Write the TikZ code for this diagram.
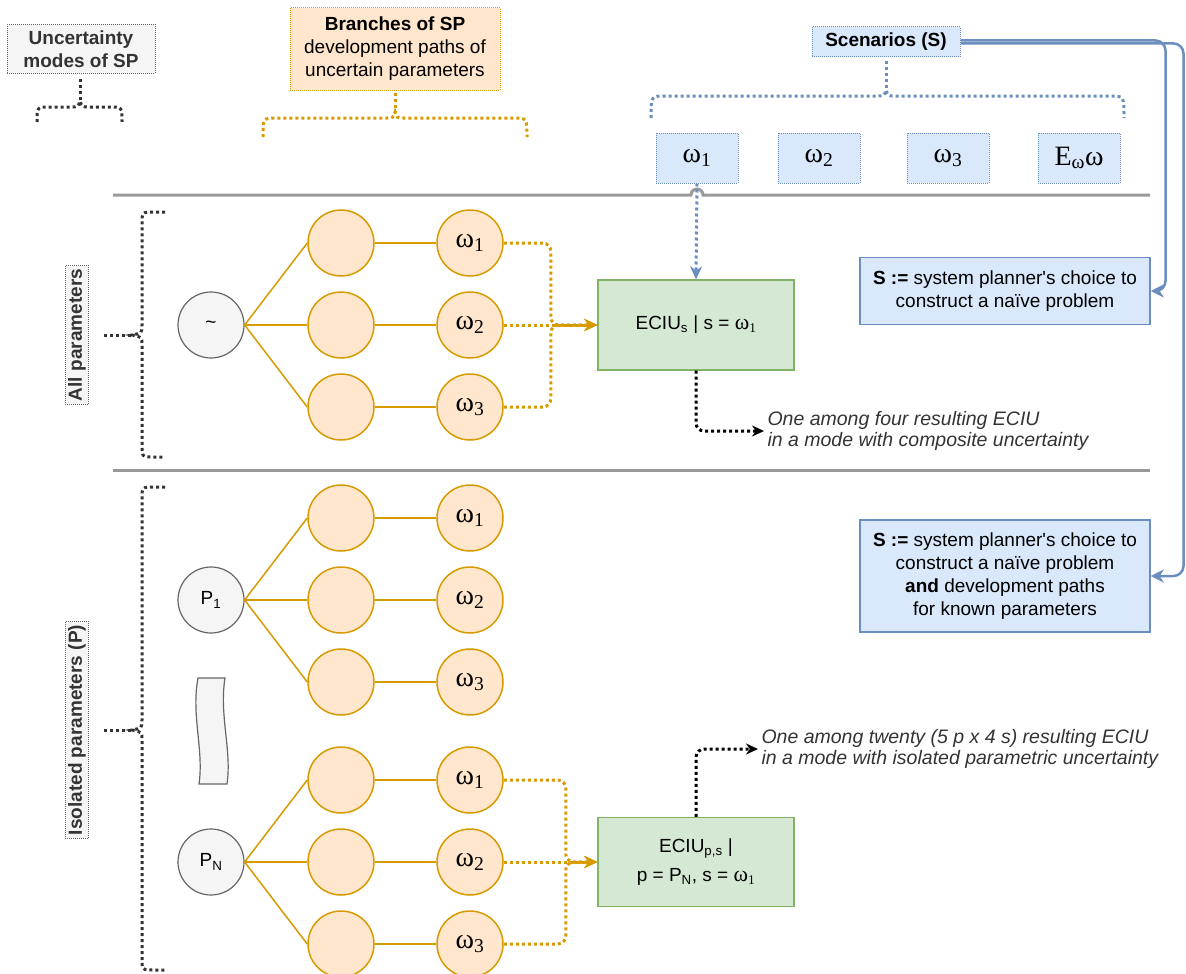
\documentclass[tikz,border=0pt]{standalone}
\usepackage{fontspec}
\setmainfont{Liberation Sans}
\newfontfamily\omfont{Liberation Serif}
\usetikzlibrary{shapes.geometric, arrows.meta, positioning}
\definecolor{orfill}{HTML}{FFE6CC}
\definecolor{ordraw}{HTML}{D79B00}
\definecolor{blfill}{HTML}{DAE8FC}
\definecolor{bldraw}{HTML}{6C8EBF}
\definecolor{grfill}{HTML}{D5E8D4}
\definecolor{grdraw}{HTML}{82B366}
\definecolor{gyfill}{HTML}{F5F5F5}
\definecolor{gydraw}{HTML}{666666}
\definecolor{gytext}{HTML}{333333}
\definecolor{sepline}{HTML}{999999}
\newcommand{\basefont}{\fontsize{19pt}{23pt}\selectfont}
\newcommand{\om}[1]{{\omfont\fontsize{28pt}{30pt}\selectfont ω\textsubscript{#1}}}
\newcommand{\omg}{{\omfont\fontsize{22pt}{23pt}\selectfont ω}}
\tikzstyle{root} = [circle, minimum size=66pt, inner sep=0pt, draw=gydraw, fill=gyfill, line width=1.2pt, font=\basefont]
\tikzstyle{branch} = [circle, minimum size=66pt, inner sep=0pt, draw=ordraw, fill=orfill, line width=1.5pt]
\tikzstyle{scen} = [rectangle, draw=bldraw, fill=blfill, densely dotted, line width=1pt, minimum width=82pt, minimum height=50pt]
\tikzstyle{result} = [rectangle, draw=grdraw, fill=grfill, line width=1.3pt, minimum width=196pt, minimum height=90pt, align=center, font=\basefont]
\tikzstyle{choice} = [rectangle, draw=bldraw, fill=blfill, line width=1.5pt, minimum width=290pt, align=center, font=\basefont]
\tikzstyle{head} = [rectangle, densely dotted, line width=1pt, align=center, inner sep=3pt]
\tikzstyle{link} = [draw=ordraw, line width=1.5pt]
\tikzstyle{merge} = [draw=ordraw, line width=3pt, dash pattern=on 3pt off 3pt, rounded corners=8pt, -{Stealth[length=13pt,width=12pt]}]
\tikzstyle{brace} = [line width=3pt, dash pattern=on 3pt off 3pt]
\tikzstyle{note} = [font=\fontsize{19.5pt}{21pt}\selectfont\itshape, align=left, anchor=west, text=gytext]
\tikzstyle{noteline} = [draw=black, line width=3pt, dash pattern=on 3pt off 3pt, rounded corners=8pt, -{Stealth[length=12pt,width=11pt]}]
\tikzstyle{feed} = [draw=bldraw, line width=2.5pt, rounded corners=10pt, -{Stealth[length=13pt,width=13pt,inset=4pt]}]
\tikzstyle{bluedot} = [draw=bldraw, line width=3pt, dash pattern=on 3pt off 3pt, -{Stealth[length=13pt,width=12pt]}]
\tikzstyle{sep} = [draw=sepline, line width=3pt]

\begin{document}
\begin{tikzpicture}[x=1pt, y=-1pt, node distance=82pt]
  \useasboundingbox (0,0) rectangle (1186,974);

  % headings
  \node (modes) [head, draw=gydraw, fill=gyfill, text=gytext, minimum width=148pt, minimum height=49pt, font=\basefont\bfseries] at (81,49) {Uncertainty\\modes of SP};
  \node (branches) [head, draw=ordraw, fill=orfill, minimum width=210pt, minimum height=82pt, font=\basefont] at (395,49) {\textbf{Branches of SP}\\development paths of\\uncertain parameters};
  \node (scen) [head, draw=bldraw, fill=blfill, minimum width=148pt, minimum height=30pt, font=\basefont\bfseries] at (886,42) {Scenarios (S)};

  \node (s1) [scen] at (697,158) {\om{1}};
  \node (s2) [scen] at (819,158) {\om{2}};
  \node (s3) [scen] at (948,158) {\om{3}};
  \node (s4) [scen] at (1079,158) {{\omfont\fontsize{28pt}{30pt}\selectfont E\textsubscript{ω}ω}};

  % braces under headings
  \draw [brace, gytext] (80,79) -- (80,101);
  \draw [brace, gytext] (37,122) .. controls (37,107) .. (49,107) -- (72,107) .. controls (78,107) .. (80,101) .. controls (82,107) .. (88,107) -- (110,107) .. controls (122,107) .. (122,122);
  \draw [brace, ordraw] (395,93) -- (395,112);
  \draw [brace, ordraw] (263,137) .. controls (263,118) .. (277,118) -- (387,118) .. controls (393,118) .. (395,112) .. controls (397,118) .. (403,118) -- (513,118) .. controls (527,118) .. (527,137);
  \draw [brace, bldraw] (886,61) -- (886,90);
  \draw [brace, bldraw] (651,118) .. controls (651,96) .. (665,96) -- (878,96) .. controls (884,96) .. (886,90) .. controls (888,96) .. (894,96) -- (1110,96) .. controls (1124,96) .. (1124,118);

  % separators
  \coordinate (sepA) at (113,195);
  \coordinate (sepB) at (1150,195);
  \coordinate (sepC) at (113,470);
  \coordinate (sepD) at (1150,470);
  \draw [sep] (sepA) -- (691,195) arc[start angle=180, end angle=0, radius=6pt] -- (sepB);
  \draw [sep] (sepC) -- (sepD);

  % all parameters
  \node (allp) [head, rotate=90, draw=gydraw, fill=gyfill, text=gytext, font=\basefont\bfseries] at (77,335) {All parameters};
  \draw [brace, gytext] (104,335) -- (132,335);
  \draw [brace, gytext] (165,212) -- (154,212) .. controls (142,212) .. (142,224) -- (142,325) .. controls (142,333) .. (132,335) .. controls (142,337) .. (142,345) -- (142,445) .. controls (142,457) .. (154,457) -- (165,457);

  \node (r1) [root] at (211,325) {\textasciitilde};
  \node (a2) [branch, right of=r1, xshift=48pt] {};
  \node (a1) [branch, above of=a2] {};
  \node (a3) [branch, below of=a2] {};
  \node (w1) [branch, right of=a1, xshift=47pt] {\om{1}};
  \node (w2) [branch, right of=a2, xshift=47pt] {\om{2}};
  \node (w3) [branch, right of=a3, xshift=47pt] {\om{3}};
  \node (e1) [result, right of=w2, xshift=144pt] {ECIU\textsubscript{s} | s = \omg\textsubscript{\omfont 1}};

  \draw [link] (r1.east) -- (a1.west);
  \draw [link] (r1.east) -- (a2.west);
  \draw [link] (r1.east) -- (a3.west);
  \draw [link] (a1) -- (w1);
  \draw [link] (a2) -- (w2);
  \draw [link] (a3) -- (w3);
  \draw [merge] (w1.east) -- ++(47,0) |- (e1.west);
  \draw [merge] (w3.east) -- ++(47,0) |- (e1.west);
  \draw [merge] (w2.east) -- (e1.west);

  \node (n1) [note] at (764,431) {One among four resulting ECIU\\in a mode with composite uncertainty};
  \draw [noteline] (e1.south) |- (n1.west);
  \draw [bluedot] (s1.south) -- (e1.north);

  % isolated parameters
  \node (isop) [head, rotate=90, draw=gydraw, fill=gyfill, text=gytext, font=\basefont\bfseries] at (77,730) {Isolated parameters (P)};
  \draw [brace, gytext] (104,730) -- (132,730);
  \draw [brace, gytext] (165,487) -- (154,487) .. controls (142,487) .. (142,499) -- (142,720) .. controls (142,728) .. (132,730) .. controls (142,732) .. (142,740) -- (142,958) .. controls (142,970) .. (154,970) -- (165,970);

  \node (p1) [root] at (211,600) {P\textsubscript{1}};
  \node (b2) [branch, right of=p1, xshift=48pt] {};
  \node (b1) [branch, above of=b2] {};
  \node (b3) [branch, below of=b2] {};
  \node (v1) [branch, right of=b1, xshift=47pt] {\om{1}};
  \node (v2) [branch, right of=b2, xshift=47pt] {\om{2}};
  \node (v3) [branch, right of=b3, xshift=47pt] {\om{3}};

  \draw [fill=gyfill, draw=gydraw, line width=1.2pt] (198,678) -- (225,678) .. controls (219,715) and (232,750) .. (227,784) -- (199,784) .. controls (204,750) and (191,715) .. (198,678) -- cycle;

  \node (pn) [root] at (211,862) {P\textsubscript{N}};
  \node (c2) [branch, right of=pn, xshift=48pt] {};
  \node (c1) [branch, above of=c2] {};
  \node (c3) [branch, below of=c2] {};
  \node (u1) [branch, right of=c1, xshift=47pt] {\om{1}};
  \node (u2) [branch, right of=c2, xshift=47pt] {\om{2}};
  \node (u3) [branch, right of=c3, xshift=47pt] {\om{3}};
  \node (e2) [result, right of=u2, xshift=144pt, minimum height=89pt] {ECIU\textsubscript{p,s} |\\[6pt] p = P\textsubscript{N}, s = \omg\textsubscript{\omfont 1}};

  \draw [link] (p1.east) -- (b1.west);
  \draw [link] (p1.east) -- (b2.west);
  \draw [link] (p1.east) -- (b3.west);
  \draw [link] (b1) -- (v1);
  \draw [link] (b2) -- (v2);
  \draw [link] (b3) -- (v3);
  \draw [link] (pn.east) -- (c1.west);
  \draw [link] (pn.east) -- (c2.west);
  \draw [link] (pn.east) -- (c3.west);
  \draw [link] (c1) -- (u1);
  \draw [link] (c2) -- (u2);
  \draw [link] (c3) -- (u3);
  \draw [merge] (u1.east) -- ++(62,0) |- (e2.west);
  \draw [merge] (u3.east) -- ++(62,0) |- (e2.west);
  \draw [merge] (u2.east) -- (e2.west);

  \node (n2) [note] at (758,749) {One among twenty (5 p x 4 s) resulting ECIU\\in a mode with isolated parametric uncertainty};
  \draw [noteline] (e2.north) |- (n2.west);

  % planner choices
  \node (plan1) [choice, minimum height=67pt] at (1005,291) {\textbf{S :=} system planner\textquotesingle s choice to\\construct a naïve problem};
  \node (plan2) [choice, minimum height=112pt] at (1005,576) {\textbf{S :=} system planner\textquotesingle s choice to\\construct a naïve problem\\\textbf{and} development paths\\for known parameters};
  \draw [feed] ([yshift=1.5pt]scen.east) -- ++(205,0) |- (plan1.east);
  \draw [feed] ([yshift=-1.5pt]scen.east) -- ++(223,0) |- (plan2.east);

\end{tikzpicture}
\end{document}
